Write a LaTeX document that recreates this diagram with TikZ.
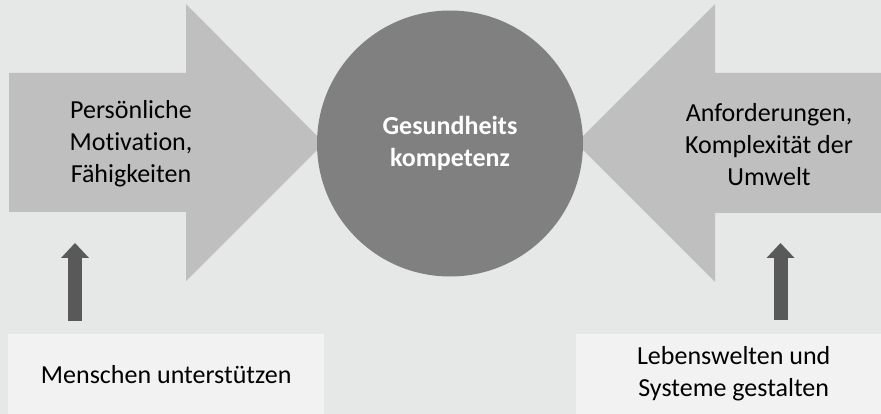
\documentclass[tikz,border=0pt]{standalone}
\usepackage{fontspec}
\setmainfont{Carlito}[Ligatures={NoCommon}]
\usetikzlibrary{arrows.meta, positioning}
\definecolor{fond}{RGB}{230,231,231}
\definecolor{fleche}{RGB}{191,191,191}
\definecolor{cercle}{RGB}{128,128,128}
\definecolor{sombre}{RGB}{89,89,89}
\definecolor{boite}{RGB}{242,242,242}

\begin{document}
\begin{tikzpicture}[x=1pt, y=-1pt, font=\fontsize{26}{32}\selectfont,
	kasten/.style={fill=boite, inner sep=0pt, minimum height=80pt, anchor=north west, align=center},
	hebel/.style={draw=sombre, line width=14pt, -{Triangle[length=15pt, width=28pt, line width=0pt]}}]
				\fill[fond] (0,0) rectangle (881,414);
				\useasboundingbox (0,0) rectangle (881,414);
				
				% Pfeil links
				\fill[fleche] (9,73) -- (186,73) -- (186,4) -- (324,143) -- (186,281) -- (186,212) -- (9,212) -- cycle;
				% Pfeil rechts
				\fill[fleche] (891,73) -- (715,73) -- (715,4) -- (576,143) -- (715,282) -- (715,213) -- (891,213) -- cycle;
				
				\node[circle, fill=cercle, minimum size=266pt, inner sep=0pt, text=white, align=center, font=\fontsize{26}{32}\selectfont\bfseries] (kompetenz) at (450,143.5) {Gesundheits\\kompetenz};
				
				\node[align=center] (motivation) at (131,144) {Persönliche\\Motivation,\\Fähigkeiten};
				\node[align=center] (umwelt) at (769,145) {Anforderungen,\\Komplexität der\\Umwelt};
				
				% Kaesten unten
				\node[kasten, minimum width=316pt] (menschen) at (8,334) {Menschen unterstützen};
				\node[kasten, minimum width=315pt] (lebenswelten) at (576,334) {Lebenswelten und\\Systeme gestalten};
				
				\coordinate (fussL) at (75,321);
				\coordinate (spitzeL) at (75,243);
				\coordinate (fussR) at (780.5,320);
				\coordinate (spitzeR) at (780.5,243);
				\draw[hebel] (fussL) -- (spitzeL);
				\draw[hebel] (fussR) -- (spitzeR);
			\end{tikzpicture}
\end{document}
